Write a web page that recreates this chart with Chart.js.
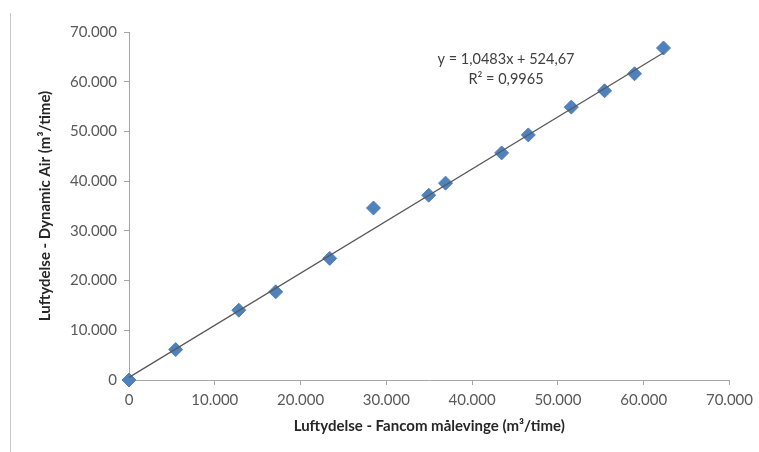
<!DOCTYPE html>
<html>
<head>
<meta charset="utf-8">
<script src="https://cdn.jsdelivr.net/npm/chart.js@4/dist/chart.umd.min.js"></script>
<style>
  html, body { margin: 0; padding: 0; background: #fff; }
  #wrap { position: relative; width: 759px; height: 452px; }
  #edge { position: absolute; left: 10px; top: 13px; width: 1px; height: 439px; background: #c8c8c8; }
  canvas { position: absolute; left: 0; top: 0; }
</style>
</head>
<body>
<div id="wrap">
  <div id="edge"></div>
  <canvas id="chart" width="759" height="452"></canvas>
</div>
<script>
// Fancom measured airflow (x) vs Dynamic Air airflow (y), m3/time
const fancomFlow = [0, 5440, 12800, 17100, 23400, 28500, 34940, 36900, 43440, 46550, 51560, 55440, 58930, 62310];
const dynamicFlow = [0, 6120, 14040, 17730, 24460, 34600, 37170, 39600, 45680, 49300, 54890, 58170, 61600, 66780];

// linear trendline endpoints (as drawn in the reference)
const trendX = [0, 62310];
const trendY = [525, 65840];

const equationLines = ['y = 1,0483x + 524,67', 'R² = 0,9965'];

const axisMin = 0;
const axisMax = 70000;
const axisStep = 10000;

const fontFamily = 'Lato, "Open Sans", sans-serif';
const axisGray = '#a6a6a6';
const textGray = '#595959';

function formatThousands(v) {
    return String(Math.round(v)).replace(/\B(?=(\d{3})+(?!\d))/g, '.');
}

const equationPlugin = {
    id: 'equationLabel',
    afterDraw(chart) {
        const { ctx } = chart;
        ctx.save();
        ctx.font = '14.5px ' + fontFamily;
        ctx.fillStyle = '#404040';
        ctx.textAlign = 'center';
        ctx.textBaseline = 'middle';
        const cx = 506;
        ctx.fillText(equationLines[0], cx, 59);
        ctx.fillText(equationLines[1], cx, 79);
        ctx.restore();
    }
};

const ctx = document.getElementById('chart');
new Chart(ctx, {
    type: 'scatter',
    data: {
        datasets: [{
            label: 'Målinger',
            data: fancomFlow.map((x, i) => ({ x: x, y: dynamicFlow[i] })),
            pointStyle: 'rectRot',
            pointRadius: 7,
            pointBackgroundColor: '#4f81bd',
            pointBorderColor: '#4f81bd',
            pointBorderWidth: 1,
            clip: false,
            order: 1
        }, {
            label: 'Trendline',
            type: 'line',
            data: trendX.map((x, i) => ({ x: x, y: trendY[i] })),
            borderColor: '#595959',
            borderWidth: 1.25,
            pointRadius: 0,
            fill: false,
            clip: false,
            order: 0
        }]
    },
    options: {
        responsive: false,
        animation: false,
        layout: { padding: { left: 0, right: 29, top: 32, bottom: 0 } },
        plugins: {
            legend: { display: false },
            tooltip: { enabled: false }
        },
        scales: {
            x: {
                type: 'linear',
                min: axisMin,
                max: axisMax,
                afterFit(scale) { scale.height = 72; },
                ticks: {
                    stepSize: axisStep,
                    color: textGray,
                    font: { family: fontFamily, size: 15 },
                    padding: 6,
                    maxRotation: 0,
                    callback: v => formatThousands(v)
                },
                grid: { drawOnChartArea: false, drawTicks: true, tickLength: 5, color: axisGray },
                border: { color: axisGray },
                title: {
                    display: true,
                    text: 'Luftydelse - Fancom målevinge (m³/time)',
                    color: '#262626',
                    font: { family: fontFamily, size: 15, weight: 'bold' },
                    padding: { top: 0, bottom: 17 }
                }
            },
            y: {
                type: 'linear',
                min: axisMin,
                max: axisMax,
                afterFit(scale) { scale.width = 129; },
                ticks: {
                    stepSize: axisStep,
                    color: textGray,
                    font: { family: fontFamily, size: 15 },
                    padding: 7,
                    callback: v => formatThousands(v)
                },
                grid: { drawOnChartArea: false, drawTicks: true, tickLength: 5, color: axisGray },
                border: { color: axisGray },
                title: {
                    display: true,
                    text: 'Luftydelse - Dynamic Air (m³/time)',
                    color: '#262626',
                    font: { family: fontFamily, size: 15, weight: 'bold' },
                    padding: { top: 36, bottom: 0 }
                }
            }
        }
    },
    plugins: [equationPlugin]
});
</script>
</body>
</html>
